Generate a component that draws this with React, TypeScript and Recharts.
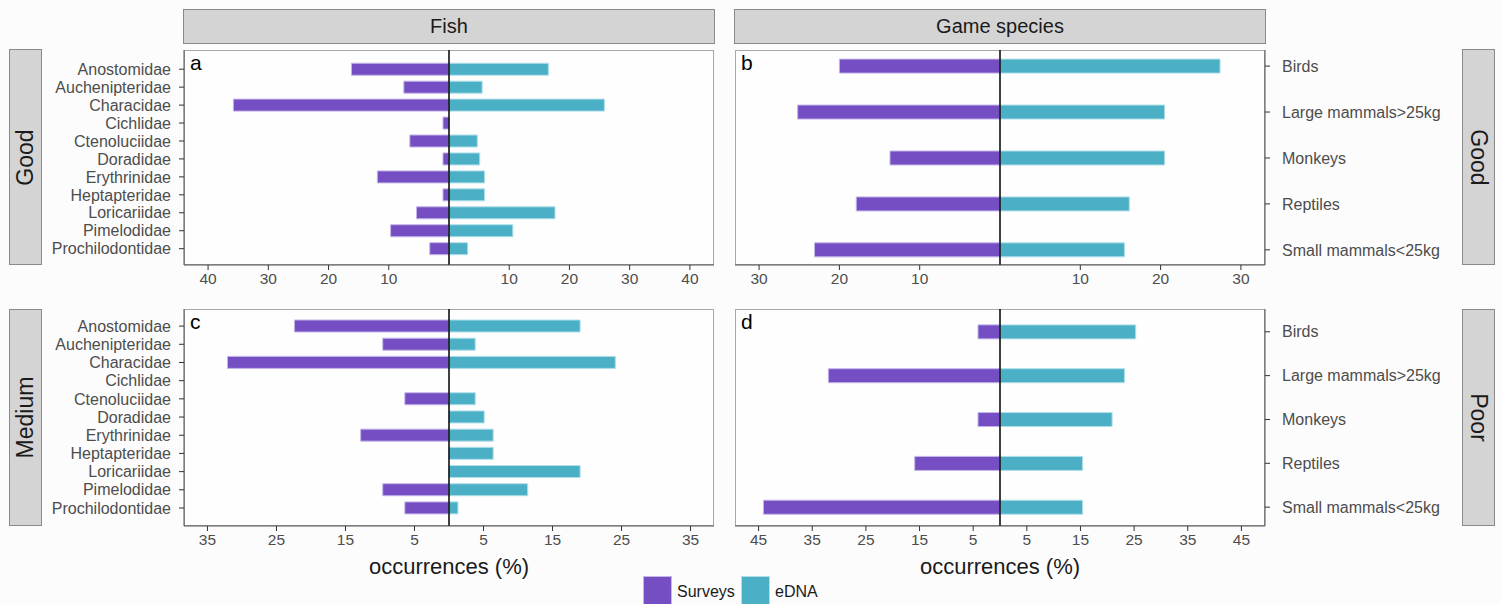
import React from 'react';
import { BarChart, Bar, XAxis, YAxis, ReferenceLine } from 'recharts';

// categories
const fishFamilies = [
  'Anostomidae', 'Auchenipteridae', 'Characidae', 'Cichlidae', 'Ctenoluciidae', 'Doradidae',
  'Erythrinidae', 'Heptapteridae', 'Loricariidae', 'Pimelodidae', 'Prochilodontidae',
];
const gameGroups = ['Birds', 'Large mammals>25kg', 'Monkeys', 'Reptiles', 'Small mammals<25kg'];

// occurrences (%)
const fishGoodSurveys = [16.2, 7.5, 35.8, 1.0, 6.5, 1.0, 11.9, 1.0, 5.4, 9.7, 3.2];
const fishGoodEdna = [16.5, 5.5, 25.8, 0, 4.7, 5.1, 5.9, 5.9, 17.6, 10.6, 3.1];
const fishMediumSurveys = [22.4, 9.6, 32.1, 0, 6.4, 0, 12.8, 0, 0, 9.6, 6.4];
const fishMediumEdna = [19.0, 3.8, 24.1, 0, 3.8, 5.1, 6.4, 6.4, 19.0, 11.4, 1.3];
const gameGoodSurveys = [20.0, 25.2, 13.7, 17.9, 23.1];
const gameGoodEdna = [27.4, 20.5, 20.5, 16.1, 15.5];
const gamePoorSurveys = [4.1, 32.0, 4.1, 15.9, 44.1];
const gamePoorEdna = [25.3, 23.2, 20.9, 15.4, 15.4];

// x tick labels
const ticksA = [-40, -30, -20, -10, 10, 20, 30, 40];
const ticksB = [-30, -20, -10, 10, 20, 30];
const ticksC = [-35, -25, -15, -5, 5, 15, 25, 35];
const ticksD = [-45, -35, -25, -15, -5, 5, 15, 25, 35, 45];

const PURPLE = '#744ec2';
const TEAL = '#4bb0c6';
const FONT = '"Liberation Sans", Arial, Helvetica, sans-serif';

interface PanelProps {
  cats: string[];
  surveys: number[];
  edna: number[];
  letter: string;
  side: 'left' | 'right';
  boxX: number;
  boxY: number;
  boxW: number;
  boxH: number;
  xDomain: [number, number];
  xTicks: number[];
  yDomain: [number, number];
  barSize: number;
}

const Panel: React.FC<PanelProps> = (p) => {
  const data = p.cats.map((name, i) => ({ idx: i, name, surveys: -p.surveys[i], edna: p.edna[i] }));
  const m = 2;
  const xh = 34;
  const yw = p.side === 'left' ? 150 : 200;
  const chartLeft = p.side === 'left' ? p.boxX - yw - m : p.boxX - m;
  const width = p.boxW + yw + 2 * m;
  const height = p.boxH + xh + 2 * m;

  return (
    <>
      <div style={{
        position: 'absolute', left: p.boxX, top: p.boxY, width: p.boxW, height: p.boxH,
        border: '1px solid #a8a8a8', boxSizing: 'border-box', background: '#fefefe',
      }} />
      <div style={{ position: 'absolute', left: chartLeft, top: p.boxY - m }}>
        <BarChart
          width={width}
          height={height}
          data={data}
          layout="vertical"
          stackOffset="sign"
          margin={{ top: m, right: m, bottom: m, left: m }}
        >
          <XAxis
            type="number"
            domain={p.xDomain}
            ticks={p.xTicks}
            allowDataOverflow
            interval={0}
            height={xh}
            tickFormatter={(v: number) => String(Math.abs(v))}
            tick={{ fill: '#4d4d4d', fontSize: 15.5, fontFamily: FONT }}
            tickSize={5}
            tickMargin={3}
            axisLine={{ stroke: '#555' }}
            tickLine={{ stroke: '#333' }}
          />
          <YAxis
            type="number"
            dataKey="idx"
            orientation={p.side}
            domain={p.yDomain}
            allowDataOverflow
            ticks={p.cats.map((_, i) => i)}
            interval={0}
            width={yw}
            tickFormatter={(v: number) => p.cats[v] ?? ''}
            tick={{ fill: '#4d4d4d', fontSize: 16, fontFamily: FONT }}
            tickSize={5}
            tickMargin={p.side === 'left' ? 8 : 12}
            axisLine={{ stroke: '#555' }}
            tickLine={{ stroke: '#333' }}
          />
          <Bar dataKey="surveys" stackId="s" fill={PURPLE} stroke="#c4b5ea" strokeWidth={1}
            barSize={p.barSize} isAnimationActive={false} />
          <Bar dataKey="edna" stackId="s" fill={TEAL} stroke="#b0dfe9" strokeWidth={1}
            barSize={p.barSize} isAnimationActive={false} />
          <ReferenceLine x={0} stroke="#000" strokeWidth={1.5} />
        </BarChart>
      </div>
      <div style={{
        position: 'absolute', left: p.boxX + 6, top: p.boxY + 2, fontSize: 21, lineHeight: '21px',
        fontFamily: FONT, color: '#000',
      }}>{p.letter}</div>
    </>
  );
};

const stripStyle: React.CSSProperties = {
  position: 'absolute', background: '#d4d4d4', border: '1px solid #8a8a8a', boxSizing: 'border-box',
  display: 'flex', alignItems: 'center', justifyContent: 'center', fontFamily: FONT, color: '#1a1a1a',
};

const Strip: React.FC<{ x: number; y: number; w: number; h: number; text: string; rotate?: number }> = ({ x, y, w, h, text, rotate }) => (
  <div style={{ ...stripStyle, left: x, top: y, width: w, height: h, fontSize: rotate ? 23 : 20 }}>
    <span style={{ display: 'inline-block', whiteSpace: 'nowrap', transform: rotate ? `rotate(${rotate}deg)` : undefined }}>{text}</span>
  </div>
);

const App: React.FC = () => {
  return (
    <div style={{ position: 'absolute', left: 0, top: 0, width: 1501, height: 604, background: '#fcfcfc', overflow: 'hidden', fontFamily: FONT }}>
      <Strip x={183} y={9} w={532} h={35} text="Fish" />
      <Strip x={734} y={9} w={532} h={35} text="Game species" />
      <Strip x={9} y={49} w={33} h={216} text="Good" rotate={-90} />
      <Strip x={9} y={309} w={33} h={217} text="Medium" rotate={-90} />
      <Strip x={1462} y={49} w={33} h={216} text="Good" rotate={90} />
      <Strip x={1462} y={309} w={33} h={217} text="Poor" rotate={90} />

      <Panel cats={fishFamilies} surveys={fishGoodSurveys} edna={fishGoodEdna} letter="a" side="left"
        boxX={184} boxY={50} boxW={530} boxH={215} xDomain={[-44, 44]} xTicks={ticksA} yDomain={[-1.07, 10.91]} barSize={12} />
      <Panel cats={gameGroups} surveys={gameGoodSurveys} edna={gameGoodEdna} letter="b" side="right"
        boxX={735} boxY={50} boxW={530} boxH={215} xDomain={[-33, 33]} xTicks={ticksB} yDomain={[-0.35, 4.33]} barSize={14} />
      <Panel cats={fishFamilies} surveys={fishMediumSurveys} edna={fishMediumEdna} letter="c" side="left"
        boxX={184} boxY={309} boxW={530} boxH={217} xDomain={[-38.4, 38.4]} xTicks={ticksC} yDomain={[-0.94, 10.99]} barSize={12} />
      <Panel cats={gameGroups} surveys={gamePoorSurveys} edna={gamePoorEdna} letter="d" side="right"
        boxX={735} boxY={309} boxW={530} boxH={217} xDomain={[-49.4, 49.4]} xTicks={ticksD} yDomain={[-0.52, 4.43]} barSize={14} />

      <div style={{ position: 'absolute', left: 184, top: 554, width: 530, textAlign: 'center', fontSize: 22, color: '#1a1a1a' }}>occurrences (%)</div>
      <div style={{ position: 'absolute', left: 735, top: 554, width: 530, textAlign: 'center', fontSize: 22, color: '#1a1a1a' }}>occurrences (%)</div>

      <div style={{ position: 'absolute', left: 643, top: 576, width: 29, height: 29, background: PURPLE, border: '1px solid #c4b5ea', boxSizing: 'border-box' }} />
      <div style={{ position: 'absolute', left: 677, top: 582, fontSize: 16, lineHeight: '20px', color: '#1a1a1a' }}>Surveys</div>
      <div style={{ position: 'absolute', left: 741, top: 576, width: 29, height: 29, background: TEAL, border: '1px solid #b0dfe9', boxSizing: 'border-box' }} />
      <div style={{ position: 'absolute', left: 775, top: 582, fontSize: 16, lineHeight: '20px', color: '#1a1a1a' }}>eDNA</div>
    </div>
  );
};

export default App;
